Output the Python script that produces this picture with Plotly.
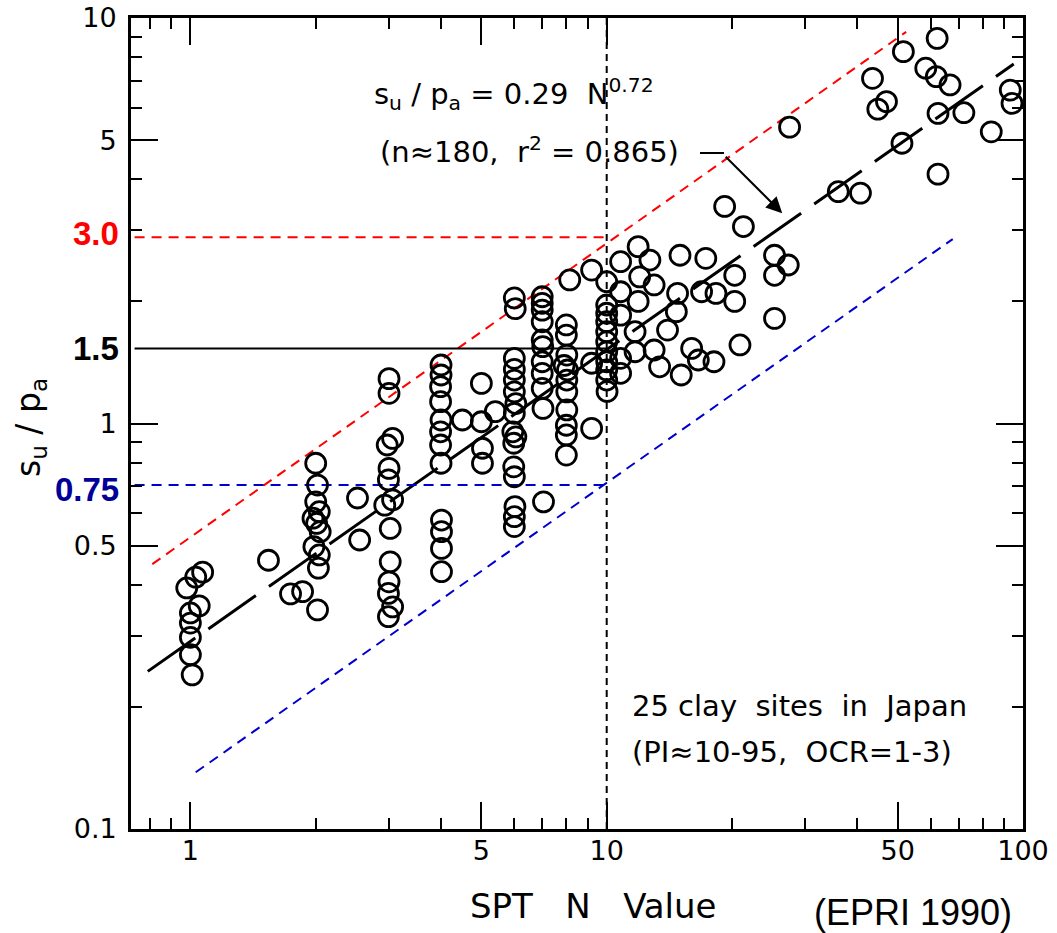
import numpy as np
import plotly.graph_objects as go

# ---------------- data ----------------
spt_n = [
    # N = 1 column
    1.07, 1.03, 0.98, 1.05, 1.00, 1.00, 1.00, 1.00, 1.01,
    1.54, 1.74, 1.86,
    # N = 2 column
    2.00, 2.02, 2.00, 1.97, 2.04, 2.01, 2.05, 1.98, 2.04, 2.03, 2.02,
    2.52, 2.55,
    # N = 3 column
    3.00, 3.00, 3.06, 2.97, 3.00, 2.99, 3.06, 2.93, 3.02, 3.02, 3.00, 2.99, 3.06, 2.99,
    # N = 4 column
    4.00, 4.00, 3.99, 3.99, 4.00, 3.99, 3.99, 4.00, 4.01, 4.01, 4.01, 4.01,
    # N = 4.5 - 5.4
    4.50, 5.00, 5.00, 5.03, 5.03, 5.40,
    # N = 6 column
    6.00, 6.03, 6.00, 6.00, 6.00, 6.00, 6.05, 6.00, 5.95, 6.05, 5.98, 5.98, 6.00, 6.02, 6.00, 6.00,
    # N = 7 column
    7.00, 7.00, 7.00, 7.00, 7.00, 7.02, 7.00, 7.00, 7.00, 7.03, 7.05,
    # N = 8 column
    8.00, 8.00, 8.02, 7.90, 8.05, 8.02, 8.02, 8.02, 8.00, 8.00, 8.00, 8.15,
    # N = 9
    9.20, 9.20, 9.20,
    # N = 10 column
    10.0, 10.0, 10.0, 10.0, 10.0, 10.0, 10.0, 10.0, 10.0, 10.0, 10.02,
    # N = 11 - 28
    10.8, 10.8, 10.8, 11.7, 11.7, 10.8, 11.9, 10.8,
    19.2, 21.3, 11.9, 12.7, 15.0, 17.3, 12.0, 13.0, 14.8, 16.9, 18.3, 20.3, 20.3,
    14.7, 14.0, 25.3, 27.3, 25.3, 25.3, 20.9, 13.0, 16.0, 16.6, 18.1, 13.4, 15.1,
    # N > 28
    27.5, 51.6, 62.2, 43.5, 58.4, 61.9, 66.8, 47.0, 44.8, 62.5, 72.1, 93.2, 94.1,
    83.9, 51.2, 62.5, 36.0, 40.7,
]

su_pa = [
    0.430, 0.418, 0.393, 0.355, 0.341, 0.322, 0.297, 0.269, 0.240,
    0.460, 0.380, 0.385,
    0.798, 0.705, 0.641, 0.584, 0.606, 0.567, 0.541, 0.497, 0.474, 0.440, 0.347,
    0.655, 0.516,
    1.290, 1.187, 0.919, 0.885, 0.775, 0.726, 0.648, 0.629, 0.551, 0.456, 0.407, 0.381, 0.353, 0.334,
    1.394, 1.317, 1.233, 1.132, 1.020, 0.954, 0.885, 0.798, 0.578, 0.541, 0.492, 0.431,
    1.020, 1.256, 1.010, 0.869, 0.798, 1.070,
    2.040, 1.920, 1.448, 1.360, 1.280, 1.197, 1.120, 1.060, 0.954, 0.927, 0.894, 0.782, 0.739, 0.624, 0.589, 0.557,
    2.054, 1.979, 1.904, 1.782, 1.607, 1.547, 1.420, 1.330, 1.221, 1.090, 0.641,
    1.750, 1.652, 1.475, 1.390, 1.355, 1.280, 1.197, 1.080, 0.990, 0.937, 0.836, 2.260,
    2.390, 1.408, 0.973,
    2.237, 1.960, 1.870, 1.782, 1.684, 1.591, 1.503, 1.420, 1.355, 1.280, 1.200,
    2.506, 2.113, 1.850, 1.684, 1.503, 1.330, 2.000, 1.448,
    3.430, 3.060, 2.730, 2.530, 2.600, 2.555, 2.300, 2.196, 2.094, 2.113, 2.094, 2.320, 2.000,
    1.887, 1.700, 2.600, 2.460, 2.320, 1.817, 1.562, 1.518, 1.532, 1.434, 1.420, 1.380, 1.317,
    5.380, 8.260, 8.910, 7.100, 7.520, 7.170, 6.840, 6.220, 5.960, 5.820, 5.840, 6.640, 6.160,
    5.240, 4.910, 4.120, 3.730, 3.700,
]

# regression  s_u/p_a = 0.29 N^0.72
fit_coef = 0.29
fit_exp = 0.72
fit_n_range = [0.79, 95.0]

# upper (red) and lower (blue) bounding lines, end points
upper_n = [0.81, 52.4]
upper_s = [0.45, 9.24]
lower_n = [1.03, 67.8]
lower_s = [0.138, 2.85]

# reference levels drawn up to N = 10
level_red = 2.88
level_black = 1.53
level_blue = 0.705
n_ref = 10

x_major = [1, 5, 10, 50, 100]
x_major_text = ["1", "5", "10", "50", "100"]
x_minor = [0.8, 0.9, 2, 3, 4, 6, 7, 8, 9, 20, 30, 40, 60, 70, 80, 90]
y_major = [0.1, 0.5, 1, 5, 10]
y_major_text = ["0.1", "0.5", "1", "5", "10"]
y_minor = [0.2, 0.3, 0.4, 0.6, 0.7, 0.8, 0.9, 2, 3, 4, 6, 7, 8, 9]

x_range = [0.72, 100]
y_range = [0.1, 10]

# ---------------- figure ----------------
fig = go.Figure()

fit_n = np.geomspace(fit_n_range[0], fit_n_range[1], 200)
fig.add_trace(go.Scatter(x=fit_n, y=fit_coef * fit_n ** fit_exp, mode="lines",
                         line=dict(color="black", width=3, dash="58px,16px"),
                         hoverinfo="skip"))

fig.add_trace(go.Scatter(x=upper_n, y=upper_s, mode="lines",
                         line=dict(color="#ff0000", width=2, dash="10px,7px")))
fig.add_trace(go.Scatter(x=lower_n, y=lower_s, mode="lines",
                         line=dict(color="#0000cc", width=2, dash="10px,7px")))

fig.add_trace(go.Scatter(x=[x_range[0] * 1.02, n_ref], y=[level_red, level_red], mode="lines",
                         line=dict(color="#ff0000", width=2, dash="10px,7px")))
fig.add_trace(go.Scatter(x=[x_range[0] * 1.02, n_ref], y=[level_black, level_black], mode="lines",
                         line=dict(color="black", width=2)))
fig.add_trace(go.Scatter(x=[x_range[0] * 1.02, n_ref], y=[level_blue, level_blue], mode="lines",
                         line=dict(color="#0000cc", width=2, dash="10px,7px")))
fig.add_trace(go.Scatter(x=[n_ref, n_ref], y=y_range, mode="lines",
                         line=dict(color="black", width=2, dash="7px,5px")))

fig.add_trace(go.Scatter(x=spt_n, y=su_pa, mode="markers",
                         marker=dict(symbol="circle-open", size=20, color="black",
                                     line=dict(width=2.8, color="black"))))

scan_font = "DejaVu Sans"

axis_common = dict(
    type="log", showgrid=False, zeroline=False, automargin=False,
    showline=True, linecolor="black", linewidth=2.8, mirror="ticks",
    ticks="inside", ticklen=27, tickwidth=2.4, tickcolor="black",
    ticklabeloverflow="allow",
    tickfont=dict(family=scan_font, size=27, color="black"),
)

fig.update_xaxes(**axis_common,
                 range=[np.log10(x_range[0]), np.log10(x_range[1])],
                 tickvals=x_major, ticktext=x_major_text, ticklabelstandoff=-4,
                 minor=dict(tickvals=x_minor, ticklen=11, tickwidth=2.4,
                            tickcolor="black", ticks="inside"))
fig.update_yaxes(**axis_common,
                 range=[np.log10(y_range[0]), np.log10(y_range[1])],
                 tickvals=y_major, ticktext=y_major_text, ticklabelstandoff=6,
                 minor=dict(tickvals=y_minor, ticklen=11, tickwidth=2.4,
                            tickcolor="black", ticks="inside"))

# the page body margin is removed below, so window pixels = figure pixels
W, H = 1057, 933
L, T = 131, 18
R = W - 1023
B = H - 829
pw, ph = W - L - R, H - T - B


def px(xw):
    return (xw - L) / pw


def py(yw):
    return (H - B - yw) / ph


NB = "\u00a0"
ann = []
# axis titles
ann.append(dict(text="SPT" + NB * 3 + "N" + NB * 3 + "Value", x=px(593), y=py(906),
                xref="paper", yref="paper",
                showarrow=False, font=dict(family=scan_font, size=34, color="black"),
                xanchor="center", yanchor="middle"))
ann.append(dict(text="s<sub>u</sub>" + NB + "/" + NB + "p<sub>a</sub>", x=px(30), y=py(428),
                xref="paper", yref="paper",
                showarrow=False, textangle=-90, font=dict(family=scan_font, size=33, color="black"),
                xanchor="center", yanchor="middle"))
# level labels
ann.append(dict(text="<b>3.0</b>", x=px(121), y=np.log10(level_red), yshift=4, xref="paper", yref="y",
                showarrow=False, font=dict(family="Liberation Sans", size=33, color="#ff0000"),
                xanchor="right", yanchor="middle"))
ann.append(dict(text="<b>1.5</b>", x=px(121), y=np.log10(level_black), xref="paper", yref="y",
                showarrow=False, font=dict(family="Liberation Sans", size=33, color="black"),
                xanchor="right", yanchor="middle"))
ann.append(dict(text="<b>0.75</b>", x=px(121), y=np.log10(level_blue), yshift=-4, xref="paper", yref="y",
                showarrow=False, font=dict(family="Liberation Sans", size=33, color="#000099"),
                xanchor="right", yanchor="middle"))
# equation
ann.append(dict(text="s<sub>u</sub>" + NB + "/" + NB + "p<sub>a</sub>" + NB + "=" + NB + "0.29" + NB * 2
                + "N<sup>0.72</sup>", x=px(372), y=py(94),
                xref="paper", yref="paper", showarrow=False,
                font=dict(family=scan_font, size=29, color="black"), xanchor="left", yanchor="middle"))
ann.append(dict(text="(n\u2248180," + NB * 2 + "r<sup>2</sup>" + NB + "=" + NB + "0.865)", x=px(378), y=py(150),
                xref="paper", yref="paper", showarrow=False,
                font=dict(family=scan_font, size=29, color="black"), xanchor="left", yanchor="middle"))
# arrow to regression line
ann.append(dict(text="", x=np.log10(26.4), y=np.log10(3.30), xref="x", yref="y",
                ax=-58, ay=-58, axref="pixel", ayref="pixel", showarrow=True,
                arrowhead=2, arrowsize=1.6, arrowwidth=2, arrowcolor="black", standoff=0))
# site note
ann.append(dict(text="25" + NB + "clay" + NB * 2 + "sites" + NB * 2 + "in" + NB * 2 + "Japan", x=px(630), y=py(706),
                xref="paper", yref="paper", showarrow=False,
                font=dict(family=scan_font, size=29, color="black"), xanchor="left", yanchor="middle"))
ann.append(dict(text="(PI\u224810-95," + NB * 2 + "OCR=1-3)", x=px(630), y=py(752),
                xref="paper", yref="paper", showarrow=False,
                font=dict(family=scan_font, size=29, color="black"), xanchor="left", yanchor="middle"))
# source
ann.append(dict(text="(EPRI 1990)", x=px(812), y=py(912), xref="paper", yref="paper",
                showarrow=False, font=dict(family="Liberation Sans", size=36, color="black"),
                xanchor="left", yanchor="middle"))

shapes = [dict(type="line", xref="paper", yref="paper",
               x0=px(700), x1=px(724), y0=py(153), y1=py(153),
               line=dict(color="black", width=2))]

fig.update_layout(width=W, height=H, margin=dict(l=L, r=R, t=T, b=B, autoexpand=False),
                  paper_bgcolor="white", plot_bgcolor="white",
                  showlegend=False, annotations=ann, shapes=shapes)

fig.write_html("out.html", config={"displayModeBar": False},
               post_script="document.body.style.margin='0';document.body.style.overflow='hidden';")
